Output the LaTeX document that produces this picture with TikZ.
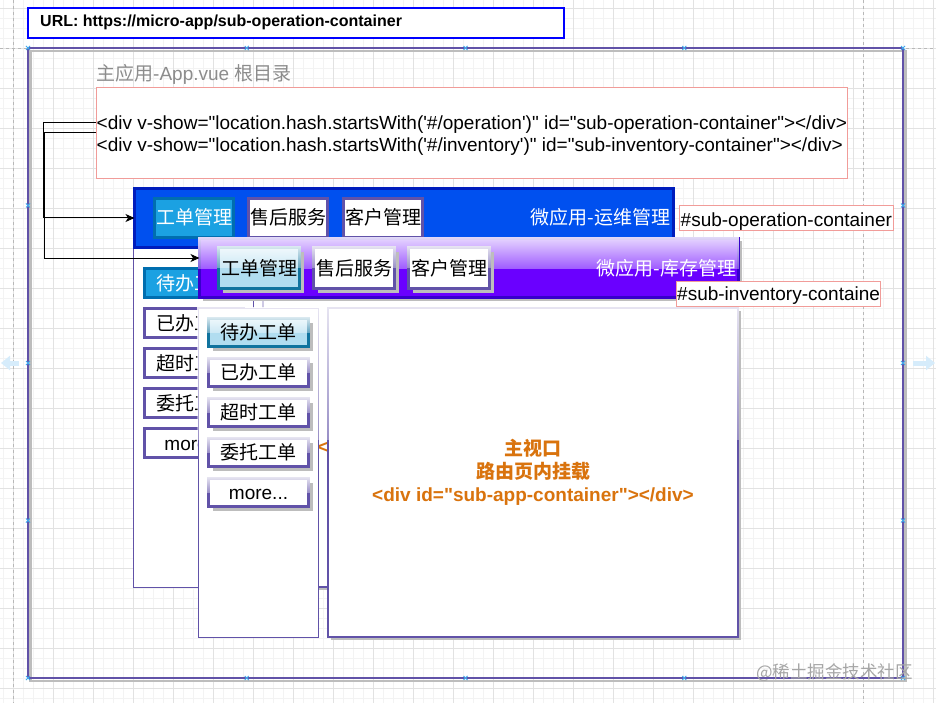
\documentclass[tikz,border=0pt]{standalone}
\usepackage{fontspec}
\setmainfont{Liberation Sans}
\newfontfamily\codefont{Liberation Sans}
\newfontfamily\cjk{Noto Sans CJK SC}
\usetikzlibrary{arrows.meta,calc,fadings,shadows}
\definecolor{purp}{HTML}{6152A8}
\definecolor{shadowgray}{HTML}{BDBDBD}
\definecolor{opfill}{HTML}{0050EF}
\definecolor{opline}{HTML}{001DBC}
\definecolor{tabblue}{HTML}{1BA1E2}
\definecolor{tabblueline}{HTML}{006EAF}
\definecolor{invfill}{HTML}{6A00FF}
\definecolor{invline}{HTML}{3700CC}
\definecolor{lightblue}{HTML}{B1DDF0}
\definecolor{lightblueline}{HTML}{10739E}
\definecolor{pinkline}{HTML}{F19C99}
\definecolor{orangetext}{HTML}{D9730D}
\definecolor{titlegray}{HTML}{8C8C8C}
\definecolor{gridminor}{HTML}{F3F3F3}
\definecolor{gridmajor}{HTML}{E2E2E2}
\definecolor{pagedash}{HTML}{B8B8B8}
\definecolor{marker}{HTML}{3DA9EE}
\definecolor{palearrow}{HTML}{D6ECFB}
\definecolor{watermark}{HTML}{A6A6A6}
\tikzfading[name=glassfade, top color=transparent!15, bottom color=transparent!65]
\newcommand\fz{\fontsize{19}{22.8}\selectfont}
\newcommand\glass[2]{\fill[white, path fading=glassfade] ($(#1.north west)+(-1.6,-1.6)$) rectangle ($(#1.north east)!#2!(#1.south east)+(1.6,0)$);}
\newcommand\gbox[7]{\node[box,#6,minimum width=#4pt,minimum height=#5pt] (#1) at (#2,#3) {};\glass{#1}{#7}}
\begin{document}
\begin{tikzpicture}[x=1pt,y=-1pt,
  box/.style={draw, inner sep=0pt, outer sep=0pt, anchor=north west},
  shad/.style={drop shadow={shadow xshift=#1, shadow yshift=-#1, fill=shadowgray, opacity=1}},
  shad/.default=3pt,
  lbltxt/.style={font=\cjk\fz, text height=14.5pt, text depth=0.5pt},
  lbl/.style={lbltxt, inner sep=0pt},
  optab/.style={box, draw=purp, line width=3pt, fill=white, lbltxt},
  opsel/.style={box, draw=tabblueline, line width=3pt, fill=tabblue, lbltxt, text=white},
  invtab/.style={box, draw=purp, line width=3pt, fill=white, shad=4pt},
  invsel/.style={box, draw=lightblueline, line width=3pt, fill=lightblue, shad=4pt},
  pinkbox/.style={box, draw=pinkline, line width=1pt, fill=white},
  codetext/.style={inner sep=0pt, anchor=base west, font=\codefont\fz},
  maintext/.style={inner sep=0pt, align=center, text=orangetext, font=\codefont\bfseries\fontsize{19}{23}\selectfont},
  conn/.style={draw=black, line width=1pt, -{Stealth[length=9pt,width=8pt,inset=2.5pt]}},
  gridmin/.style={draw=gridminor, line width=0.8pt},
  gridmaj/.style={draw=gridmajor, line width=0.8pt},
  pageline/.style={draw=pagedash, line width=0.8pt, dash pattern=on 3pt off 3pt},
  mk/.style={draw=marker, line width=1pt},
]
\useasboundingbox (0,0) rectangle (936,703);
\fill[white] (0,0) rectangle (936,703);
% grid
\foreach \x in {3,13,...,933} \draw[gridmin] (\x,0) -- (\x,703);
\foreach \y in {8,18,...,698} \draw[gridmin] (0,\y) -- (936,\y);
\foreach \x in {13,53,...,933} \draw[gridmaj] (\x,0) -- (\x,703);
\foreach \y in {8,48,...,688} \draw[gridmaj] (0,\y) -- (936,\y);
\draw[pageline] (13,0) -- (13,703);
\draw[pageline] (863,0) -- (863,703);
\draw[pageline] (0,48) -- (936,48);
% URL box
\node[box, draw=blue, line width=1.2pt, fill=white, minimum width=536pt, minimum height=30pt] (url) at (28,8) {};
\node[anchor=west, inner sep=0pt, font=\codefont\bfseries\fontsize{16}{19}\selectfont] (urltext) at (40,22.5) {URL: https://micro-app/sub-operation-container};
% main frame
\node[box, draw=purp, line width=2.5pt, minimum width=875pt, minimum height=630pt] (frame) at (28,48) {};
\draw[shadowgray, line width=2.5pt] ($(frame.north west)+(2.5,3)$) rectangle ($(frame.south east)+(2.5,3)$);
\draw[purp, line width=2.5pt] (frame.north west) rectangle (frame.south east);
% title
\node[anchor=base west, inner sep=0pt, text=titlegray, font=\codefont\fz] (title) at (96,81) {{\cjk 主应用}-App.vue {\cjk 根目录}};
% code box
\node[pinkbox, minimum width=751pt, minimum height=91pt] (code) at (96,88) {};
\node[codetext] (l1) at (96.5,130) {<div v-show="location.hash.startsWith('\#/operation')" id="sub-operation-container"></div>};
\node[codetext] (l2) at (96.5,152) {<div v-show="location.hash.startsWith('\#/inventory')" id="sub-inventory-container"></div>};
% operation sidebar
\node[box, draw=purp, line width=0.8pt, fill=white, minimum width=119.5pt, minimum height=339.5pt] (opside) at (133.5,248) {};
\node[opsel, minimum width=99pt, minimum height=29pt] (opb1) at (144.5,268.5) {待办工单};
\node[optab, minimum width=99pt, minimum height=29pt] (opb2) at (144.5,308.5) {已办工单};
\node[optab, minimum width=99pt, minimum height=29pt] (opb3) at (144.5,348.5) {超时工单};
\node[optab, minimum width=99pt, minimum height=29pt] (opb4) at (144.5,388.5) {委托工单};
\node[optab, minimum width=99pt, minimum height=29pt] (opb5) at (144.5,428.5) {{\codefont more...}};
% operation main view (mostly hidden; only a fragment of its text shows)
\gbox{opmain}{263}{264}{431}{323}{draw=purp, line width=2pt, fill=white, shad=3pt}{0.4}
\node[maintext, anchor=west] (opmain-t) at (317.5,447.5) {<};
% operation header
\node[box, draw=opline, line width=3pt, fill=opfill, minimum width=539pt, minimum height=59pt] (ophead) at (134.5,188.5) {};
\node[opsel, minimum width=79pt, minimum height=39pt] (opt1) at (154.5,198.5) {工单管理};
\node[optab, minimum width=79pt, minimum height=39pt] (opt2) at (248.5,198.5) {售后服务};
\node[optab, minimum width=79pt, minimum height=39pt] (opt3) at (343.5,198.5) {客户管理};
\node[lbl, anchor=east, text=white] (oplabel) at (670.5,218) {微应用-运维管理};
\node[pinkbox, minimum width=214pt, minimum height=25pt] (oppink) at (679,206) {};
\node[codetext] (oppink-t) at (680.5,226.5) {\#sub-operation-container};
% inventory sidebar
\gbox{invside}{198.5}{308.5}{120}{329}{draw=purp, line width=0.8pt, fill=white}{0.4}
\gbox{invb1}{208.5}{318.5}{100}{28}{invsel}{0.5}
\node[lbl] (invb1-t) at (invb1.center) {待办工单};
\gbox{invb2}{208.5}{358.5}{100}{28}{invtab}{0.5}
\node[lbl] (invb2-t) at (invb2.center) {已办工单};
\gbox{invb3}{208.5}{398.5}{100}{28}{invtab}{0.5}
\node[lbl] (invb3-t) at (invb3.center) {超时工单};
\gbox{invb4}{208.5}{438.5}{100}{28}{invtab}{0.5}
\node[lbl] (invb4-t) at (invb4.center) {委托工单};
\gbox{invb5}{208.5}{478.5}{100}{28}{invtab}{0.5}
\node[lbl] (invb5-t) at (invb5.center) {{\codefont more...}};
% inventory main view
\gbox{invmain}{328}{308}{410}{329}{draw=purp, line width=2.5pt, fill=white, shad=3pt}{0.4}
\node[maintext] (invmain-t) at (invmain.center) {{\cjk 主视口}\\{\cjk 路由页内挂载}\\<div id="sub-app-container"></div>};
% inventory header
\gbox{invhead}{199.5}{238.5}{539}{59}{draw=invline, line width=3pt, fill=invfill, shad=3pt}{0.52}
\gbox{invt1}{218.5}{247.5}{81}{41}{invsel}{0.5}
\node[lbl] (invt1-t) at (invt1.center) {工单管理};
\gbox{invt2}{313.5}{247.5}{81}{41}{invtab}{0.5}
\node[lbl] (invt2-t) at (invt2.center) {售后服务};
\gbox{invt3}{408.5}{247.5}{81}{41}{invtab}{0.5}
\node[lbl] (invt3-t) at (invt3.center) {客户管理};
\node[lbl, anchor=east, text=white] (invlabel) at (736.5,268) {微应用-库存管理};
\node[pinkbox, minimum width=204pt, minimum height=25pt] (invpink) at (676,281) {};
\node[codetext] (invpink-t) at (677,300.5) {\#sub-inventory-containe};
% connectors
\draw[conn] ($(code.west)+(0,-10.5)$) -- ++(-53,0) |- (ophead.west);
\draw[conn] ($(code.west)+(0,-0.5)$) -- ++(-52,0) |- ($(invhead.west)+(0,-10)$);
% markers
\foreach \x in {28,246.75,465.5,684.25,903} {
  \draw[mk] (\x-2,46) -- (\x+2,50) (\x-2,50) -- (\x+2,46);
  \draw[mk] (\x-2,676) -- (\x+2,680) (\x-2,680) -- (\x+2,676);
}
\foreach \y in {205.5,363,520.5} {
  \draw[mk] (26,\y-2) -- (30,\y+2) (26,\y+2) -- (30,\y-2);
  \draw[mk] (901,\y-2) -- (905,\y+2) (901,\y+2) -- (905,\y-2);
}
\draw[palearrow, line width=5pt, -{Triangle[length=9pt,width=14pt]}] (19,363) -- (1,363);
\draw[palearrow, line width=5pt, -{Triangle[length=9pt,width=14pt]}] (913,363) -- (935,363);
% watermark
\node[anchor=west, inner sep=0pt, text=watermark, font=\cjk\fontsize{17.5}{20}\selectfont] (wm) at (756,673) {@稀土掘金技术社区};
\end{tikzpicture}
\end{document}
